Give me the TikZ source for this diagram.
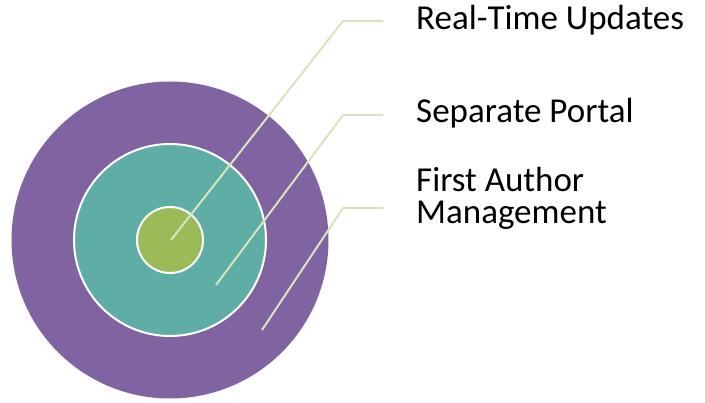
\documentclass[tikz,border=0pt]{standalone}
\usepackage{fontspec}
\setmainfont{Carlito}
\definecolor{ringpurple}{HTML}{8064A2}
\definecolor{ringteal}{HTML}{5EAEA6}
\definecolor{ringgreen}{HTML}{9BBB59}
\definecolor{leadercol}{HTML}{D7E4BD}
\begin{document}
\begin{tikzpicture}[x=1pt, y=-1pt]
  \tikzstyle{ring}=[circle, draw=white, line width=2pt, inner sep=0pt]
  \tikzstyle{leader}=[draw=leadercol, line width=2pt]
  \tikzstyle{label}=[anchor=base west, inner sep=0pt, align=left,
                     font=\fontsize{35}{32}\selectfont]
  \useasboundingbox (0,0) rectangle (705,403);

  \node[ring, draw=none, fill=ringpurple, minimum size=317pt] (outer) at (170,240) {};
  \node[ring, fill=ringteal,  minimum size=192pt] (middle) at (170,240) {};
  \node[ring, fill=ringgreen, minimum size=66pt]  (inner)  at (170,240) {};

  \coordinate (tip1) at (171,240);
  \coordinate (tip2) at (216,285);
  \coordinate (tip3) at (262,330);
  \coordinate (bend1) at (343,21);
  \coordinate (bend2) at (343,115);
  \coordinate (bend3) at (343,208);
  \coordinate (end1) at (383,21);
  \coordinate (end2) at (383,115);
  \coordinate (end3) at (383,208);

  \node[label] (updates) at (416,30)  {Real-Time Updates};
  \node[label] (portal)  at (416,123) {Separate Portal};
  \node[label] (author)  at (416,224) {First Author\\Management};

  \path[leader] (tip1) -- (bend1) -- (end1);
  \path[leader] (tip2) -- (bend2) -- (end2);
  \path[leader] (tip3) -- (bend3) -- (end3);
\end{tikzpicture}
\end{document}
